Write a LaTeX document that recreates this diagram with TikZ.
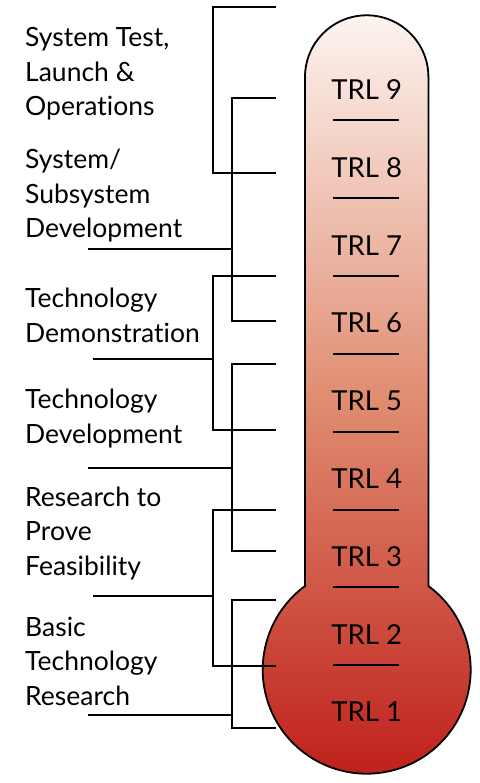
\documentclass[tikz,border=0pt]{standalone}
\usepackage{fontspec}
\setmainfont{Lato}[Ligatures={NoCommon}]
\definecolor{tubetop}{HTML}{FDF4F0}
\definecolor{tubemid}{HTML}{E08C71}
\definecolor{tubebot}{HTML}{BE1D18}

\tikzset{
  bracket/.style={line width=1.8pt, black},
  divider/.style={line width=2pt, black},
  stagelabel/.style={anchor=base west, inner sep=0pt, align=left, font=\fontsize{26.5}{34.5}\selectfont},
  trllabel/.style={anchor=base, inner sep=0pt, font=\fontsize{27.5}{30}\selectfont},
}

\begin{document}
\begin{tikzpicture}[x=1pt,y=-1pt]
  \useasboundingbox (0,0) rectangle (479,783);

  % thermometer
  \draw[line width=1.8pt, top color=tubetop, bottom color=tubebot, middle color=tubemid]
    (305,586) -- (305,77) arc (180:360:61.7) -- (428.4,586) arc (-53.6:233.6:104) -- cycle;

  \draw[divider] (333,120.5) -- (399,120.5);
  \draw[divider] (333,198.3) -- (399,198.3);
  \draw[divider] (333,276.1) -- (399,276.1);
  \draw[divider] (333,353.9) -- (399,353.9);
  \draw[divider] (333,431.7) -- (399,431.7);
  \draw[divider] (333,509.5) -- (399,509.5);
  \draw[divider] (333,587.3) -- (399,587.3);
  \draw[divider] (333,665.1) -- (399,665.1);

  \node[trllabel] (trl9) at (366.7,99.5) {TRL 9};
  \node[trllabel] (trl8) at (366.7,177.3) {TRL 8};
  \node[trllabel] (trl7) at (366.7,255.1) {TRL 7};
  \node[trllabel] (trl6) at (366.7,332.9) {TRL 6};
  \node[trllabel] (trl5) at (366.7,410.7) {TRL 5};
  \node[trllabel] (trl4) at (366.7,488.5) {TRL 4};
  \node[trllabel] (trl3) at (366.7,566.3) {TRL 3};
  \node[trllabel] (trl2) at (366.7,644.1) {TRL 2};
  \node[trllabel] (trl1) at (366.7,721.9) {TRL 1};

  % stages (anchored on the baseline of the last line)
  \node[stagelabel] (systest) at (25,116) {System Test,\\Launch \&\\Operations};
  \node[stagelabel] (sysdev) at (25,238) {System/\\Subsystem\\Development};
  \node[stagelabel] (techdemo) at (25,342) {Technology\\Demonstration};
  \node[stagelabel] (techdev) at (25,443) {Technology\\Development};
  \node[stagelabel] (feas) at (25,575) {Research to\\Prove\\Feasibility};
  \node[stagelabel] (basic) at (25,705) {Basic\\Technology\\Research};

  % brackets
  \coordinate (systest-top) at (276,7);
  \coordinate (systest-bot) at (276,173);
  \coordinate (sysdev-top) at (276,98);
  \coordinate (sysdev-bot) at (276,321);
  \coordinate (techdemo-top) at (276,276);
  \coordinate (techdemo-bot) at (276,430);
  \coordinate (techdev-top) at (276,364);
  \coordinate (techdev-bot) at (276,551);
  \coordinate (feas-top) at (276,510);
  \coordinate (feas-bot) at (276,666);
  \coordinate (basic-top) at (276,600);
  \coordinate (basic-bot) at (276,728);

  \draw[bracket] (systest-top) -| (213,173) -- (systest-bot);
  \draw[bracket] (sysdev-top) -| (232,321) -- (sysdev-bot);
  \draw[bracket] (88,249) -- (232,249);
  \draw[bracket] (techdemo-top) -| (213,430) -- (techdemo-bot);
  \draw[bracket] (93,359) -- (213,359);
  \draw[bracket] (techdev-top) -| (232,551) -- (techdev-bot);
  \draw[bracket] (88,468) -- (232,468);
  \draw[bracket] (feas-top) -| (213,666) -- (feas-bot);
  \draw[bracket] (93,596) -- (213,596);
  \draw[bracket] (basic-top) -| (232,728) -- (basic-bot);
  \draw[bracket] (88,715) -- (232,715);
\end{tikzpicture}
\end{document}
